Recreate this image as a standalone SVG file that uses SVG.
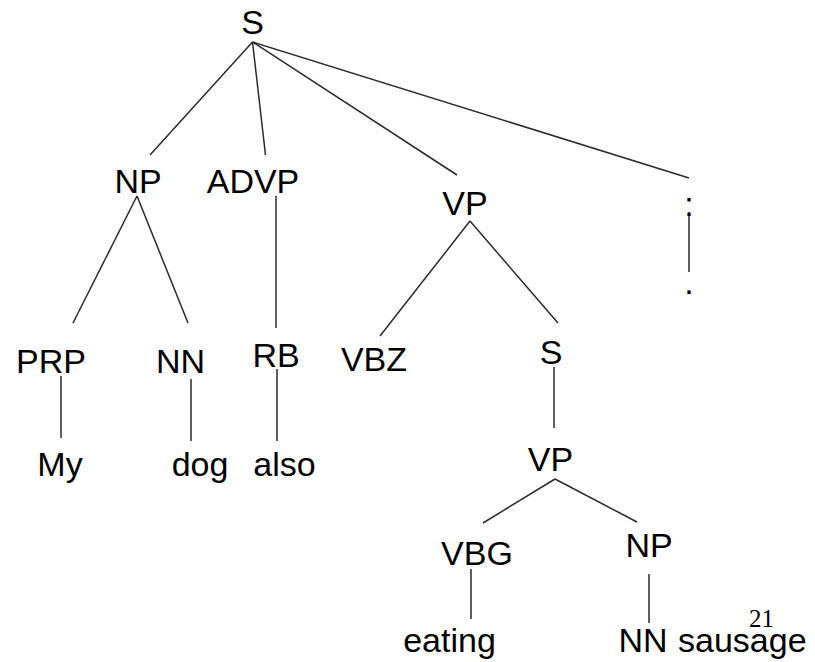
<svg xmlns="http://www.w3.org/2000/svg" width="815" height="662" viewBox="0 0 815 662">
  <style>
    .lbl { font-family: "Liberation Sans", Arial, sans-serif; font-size: 34px; fill: #000; text-anchor: middle; }
    .word { font-family: "Liberation Sans", Arial, sans-serif; font-size: 34px; fill: #000; text-anchor: middle; }
    .pg { font-family: "Liberation Serif", "Times New Roman", serif; font-size: 25px; fill: #000; }
    .edges line { stroke: #2a2a2a; stroke-width: 1.5; stroke-linecap: butt; }
  </style>
  <rect width="815" height="662" fill="#fff"/>

  <!-- tree edges -->
  <g id="edges" class="edges">
    <line x1="252.5" y1="42" x2="150" y2="155"/>
    <line x1="252.5" y1="42" x2="265.5" y2="155"/>
    <line x1="252.5" y1="42" x2="457" y2="175"/>
    <line x1="252.5" y1="42" x2="689" y2="178"/>
    <line x1="137" y1="196" x2="73" y2="323"/>
    <line x1="137" y1="196" x2="188" y2="323"/>
    <line x1="276" y1="196" x2="276" y2="328"/>
    <line x1="470" y1="221" x2="380" y2="336"/>
    <line x1="470" y1="221" x2="558" y2="323"/>
    <line x1="689" y1="212" x2="689" y2="272"/>
    <line x1="61" y1="376" x2="61" y2="438"/>
    <line x1="191" y1="379" x2="191" y2="441"/>
    <line x1="277" y1="369" x2="277" y2="441"/>
    <line x1="554" y1="367" x2="554" y2="428"/>
    <line x1="555" y1="479" x2="483" y2="523"/>
    <line x1="555" y1="479" x2="637" y2="522"/>
    <line x1="471" y1="569" x2="471" y2="619"/>
    <line x1="649" y1="574" x2="649" y2="623"/>
  </g>

  <!-- constituents -->
  <g id="n-S"><text class="lbl" x="252.5" y="34">S</text></g>
  <g id="n-NP"><text class="lbl" x="138" y="193">NP</text></g>
  <g id="n-ADVP"><text class="lbl" x="253" y="193">ADVP</text></g>
  <g id="n-VP"><text class="lbl" x="465" y="215">VP</text></g>
  <g id="n-colon"><text class="lbl" x="689" y="216">:</text></g>
  <g id="n-period"><text class="lbl" x="689" y="294">.</text></g>
  <g id="n-PRP"><text class="lbl" x="51" y="373">PRP</text></g>
  <g id="n-NN1"><text class="lbl" x="180.5" y="373">NN</text></g>
  <g id="n-RB"><text class="lbl" x="276" y="367">RB</text></g>
  <g id="n-VBZ"><text class="lbl" x="374" y="371">VBZ</text></g>
  <g id="n-S2"><text class="lbl" x="551" y="364">S</text></g>
  <g id="n-VP2"><text class="lbl" x="550.5" y="471">VP</text></g>
  <g id="n-VBG"><text class="lbl" x="477" y="565">VBG</text></g>
  <g id="n-NP2"><text class="lbl" x="649" y="557">NP</text></g>
  <g id="n-NN2"><text class="lbl" x="643" y="652">NN</text></g>

  <!-- words -->
  <g id="w-my"><text class="word" x="60" y="476">My</text></g>
  <g id="w-dog"><text class="word" x="200" y="476">dog</text></g>
  <g id="w-also"><text class="word" x="284.5" y="476">also</text></g>
  <g id="w-eating"><text class="word" x="449.5" y="652">eating</text></g>
  <g id="w-sausage"><text class="word" x="678" y="652" style="text-anchor:start">sausage</text></g>

  <!-- page number -->
  <text class="pg" x="749" y="627">21</text>
</svg>
